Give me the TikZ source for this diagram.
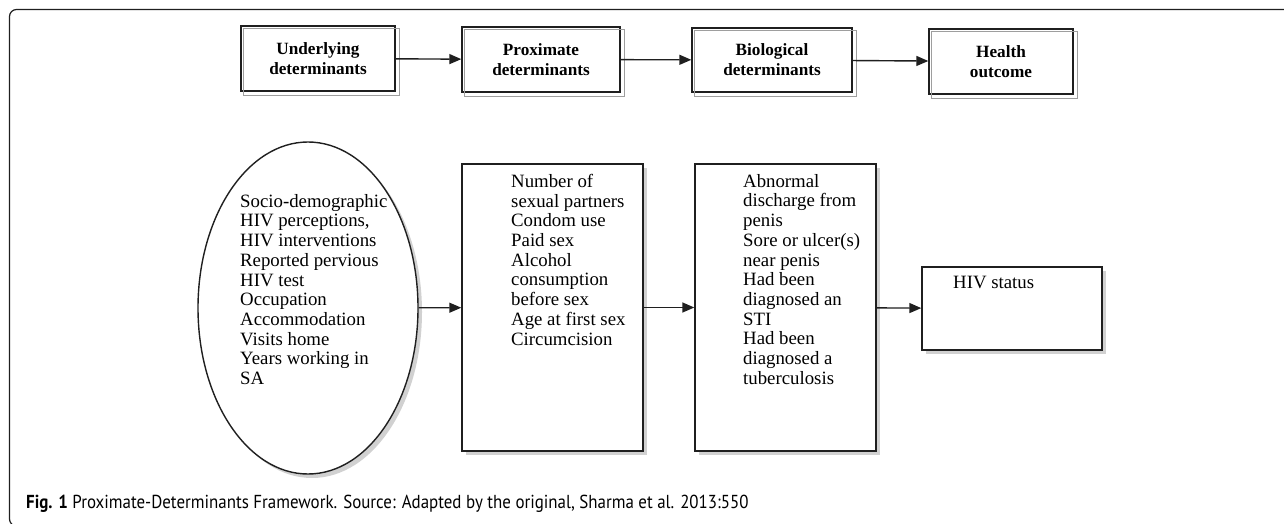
\documentclass[tikz,border=0pt]{standalone}
\usepackage{fontspec}
\setmainfont{Liberation Serif}
\newfontfamily\capfont[FakeStretch=0.9]{PT Sans}
\usetikzlibrary{shapes.geometric,shadows,arrows.meta}

\begin{document}
\begin{tikzpicture}[x=1pt,y=-1pt]
  \definecolor{rim}  {gray}{0.12};
  \definecolor{ghost}{gray}{0.62};
  \definecolor{shade}{gray}{0.82};
  \tikzstyle{head}=[draw=rim,line width=1.4pt,inner sep=0pt,align=center,font=\fontsize{17.2}{20}\selectfont\bfseries]
  \tikzstyle{ghostbox}=[draw=ghost,line width=1.3pt]
  \tikzstyle{box}=[draw=rim,line width=1.4pt,fill=white,inner sep=0pt,drop shadow={shadow xshift=4pt,shadow yshift=-4pt,fill=shade,opacity=1}]
  \tikzstyle{items}=[inner sep=0pt,anchor=north west,align=left,font=\fontsize{18.8}{19.7}\selectfont]
  \tikzstyle{link}=[line width=1.4pt,draw=rim,-{Triangle[length=12pt,width=10pt]}]
  \useasboundingbox (0,0) rectangle (1284,524);
  % frame
  \draw[rim,line width=1.2pt,rounded corners=7pt] (1300,9.5) -- (9.5,9.5) -- (9.5,526) -- (1300,526);
  % top row
  \node (ud) at (318,58.5)  [head,minimum width=154,minimum height=65] {Underlying\\determinants};
  \node (pd) at (541,59.5)  [head,minimum width=158,minimum height=65] {Proximate\\determinants};
  \node (bd) at (772,60)    [head,minimum width=160,minimum height=64] {Biological\\determinants};
  \node (ho) at (1001,61.5) [head,minimum width=144,minimum height=65] {Health\\outcome};
  \foreach \n in {ud,pd,bd,ho}
    \draw[ghostbox] ([xshift=3.5pt,yshift=-3.5pt]\n.north west) rectangle ([xshift=3.5pt,yshift=-3.5pt]\n.south east);
  \draw[link] (ud) -- (pd);
  \draw[link] (pd) -- (bd);
  \draw[link] (bd) -- (ho);
  % bottom row
  \node (sd) at (308,308)    [box,ellipse,minimum width=220,minimum height=332] {};
  \node (pb) at (552.5,307.5) [box,minimum width=181,minimum height=287] {};
  \node (bb) at (785.5,307.5) [box,minimum width=181,minimum height=287] {};
  \node (hs) at (1012,308.5)  [box,minimum width=180,minimum height=83] {};
  \node (sdt) at (240,194) [items] {Socio-demographic\\HIV perceptions,\\HIV interventions\\Reported pervious\\HIV test\\Occupation\\Accommodation\\Visits home\\Years working in\\SA};
  \node (pbt) at (511,174) [items] {Number of\\sexual partners\\Condom use\\Paid sex\\Alcohol\\consumption\\before sex\\Age at first sex\\Circumcision};
  \node (bbt) at (743,174) [items] {Abnormal\\discharge from\\penis\\Sore or ulcer(s)\\near penis\\Had been\\diagnosed an\\STI\\Had been\\diagnosed a\\tuberculosis};
  \node (hst) at (953,276) [items] {HIV status};
  \draw[link] (sd) -- (pb);
  \draw[link] (pb) -- (bb);
  \draw[link] (bb) -- (hs);
  % caption
  \node (cap) at (26,504) [anchor=west,inner sep=0pt,font=\capfont\fontsize{18.8}{22}\selectfont] {\textbf{Fig. 1} Proximate-Determinants Framework. Source: Adapted by the original, Sharma et al. 2013:550};
\end{tikzpicture}
\end{document}
